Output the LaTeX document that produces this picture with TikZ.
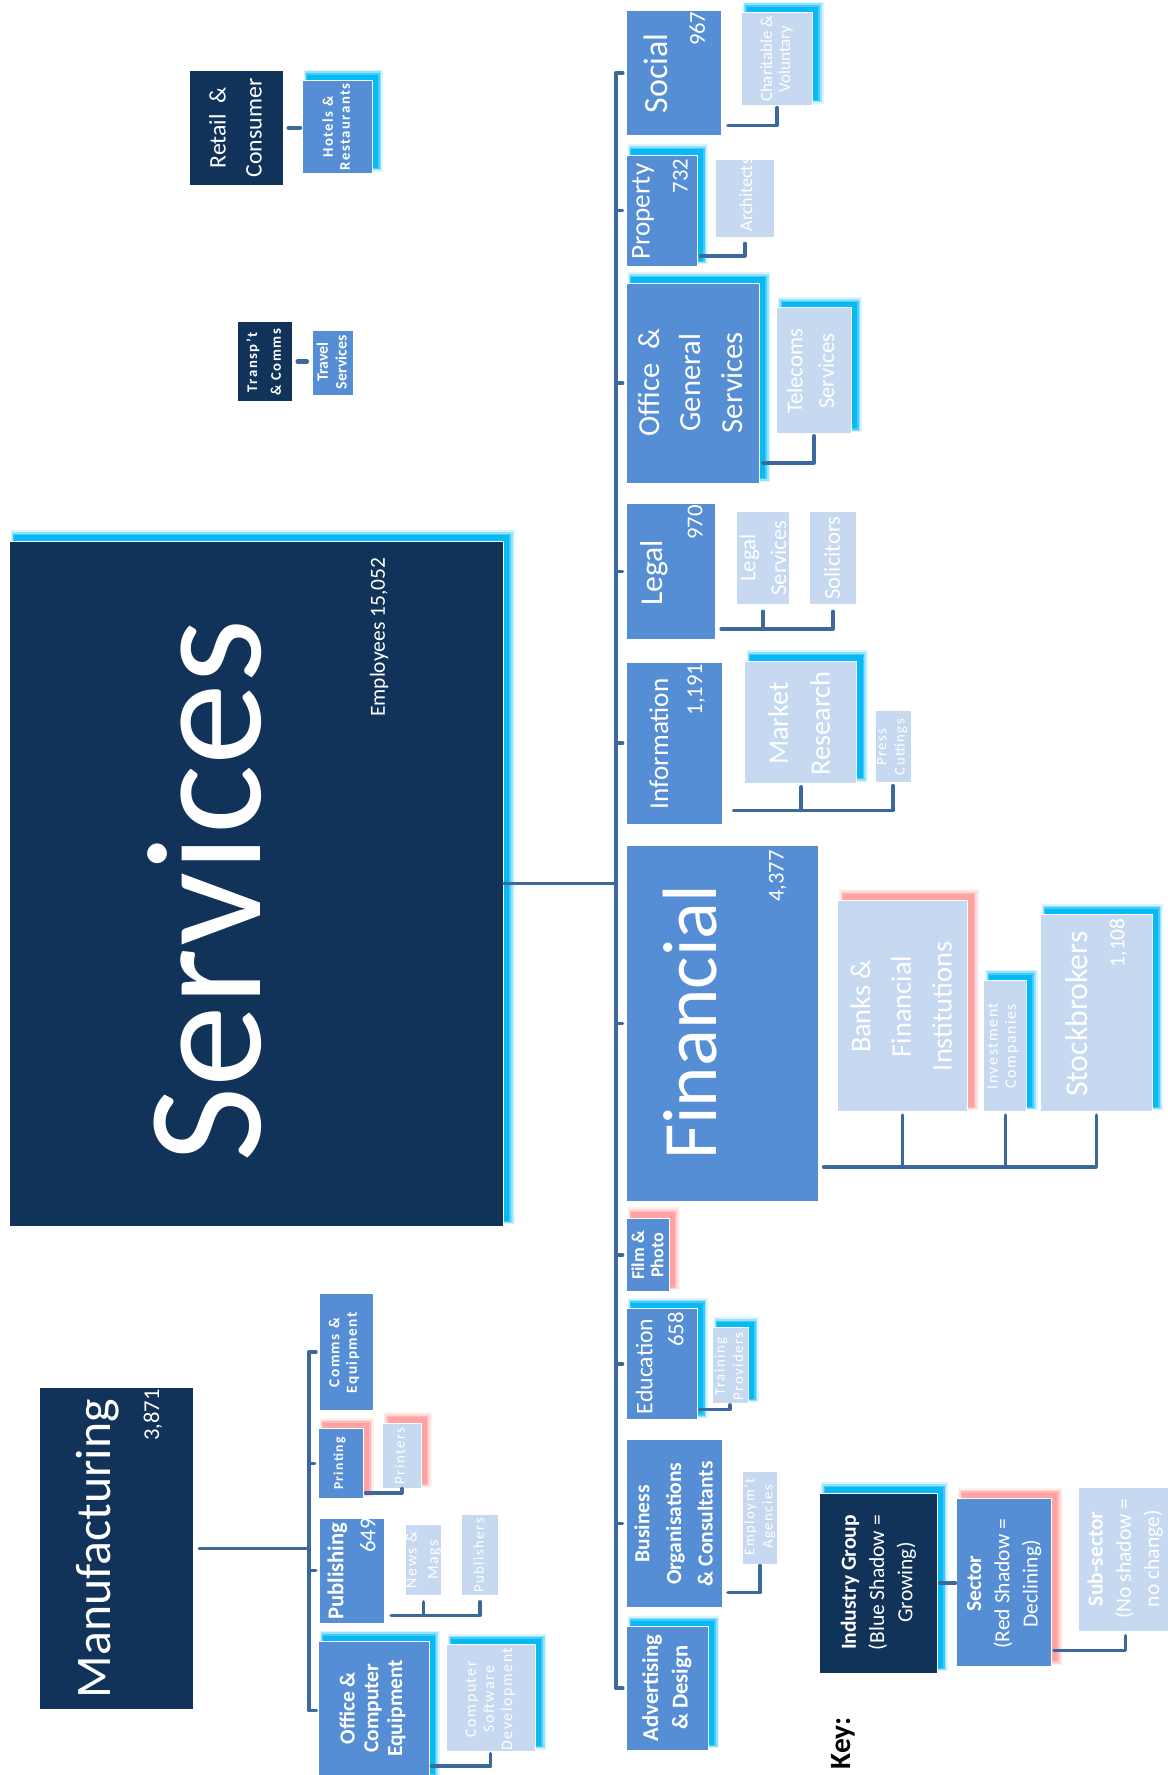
\documentclass[tikz,border=0pt]{standalone}
\usepackage{fontspec}
\setmainfont{Carlito}
\usetikzlibrary{calc}
\definecolor{navy}{RGB}{17,50,89}
\definecolor{midb}{RGB}{85,142,213}
\definecolor{lightb}{RGB}{198,217,241}
\definecolor{connc}{RGB}{60,104,156}
\definecolor{gblue}{RGB}{0,185,245}
\definecolor{gred}{RGB}{255,160,160}
\newcommand{\fs}[2]{\fontsize{#1}{#2}\selectfont}
\newcommand{\lsp}{\addfontfeatures{LetterSpace=10}}
\newcommand{\mkbox}[6]{\node[#1, minimum width={#5-#3}, minimum height={#6-#4}] (#2) at ({(#3+#5)/2},{(#4+#6)/2}) {};}
\newcommand{\glow}[5]{%
  \fill[#1, opacity=.15] ({#2+1.5},{#3-9.5}) rectangle ({#4+9.5},{#5-1.5});
  \fill[#1, opacity=.3] ({#2+2.5},{#3-8}) rectangle ({#4+8},{#5-2.5});
  \fill[#1, opacity=.55] ({#2+3.5},{#3-6.5}) rectangle ({#4+6.5},{#5-3.5});
  \fill[#1, opacity=.9] ({#2+4.5},{#3-5}) rectangle ({#4+5},{#5-4.5});}
\tikzset{
  bx/.style={rectangle, draw=white, line width=0.8pt, inner sep=0pt, outer sep=0pt},
  grpbox/.style={bx, fill=navy},
  secbox/.style={bx, fill=midb},
  subbox/.style={bx, fill=lightb},
  txt/.style={text=white, rotate=90, align=center, inner sep=0pt},
  conn/.style={draw=connc, line width=3pt, line join=round, line cap=round},
  trunk/.style={conn, line width=3.5pt},
}
\begin{document}
\begin{tikzpicture}[x=1pt,y=-1pt]
\fill[white] (0,0) rectangle (1031,1568);
\useasboundingbox (0,0) rectangle (1031,1568);
\coordinate (tx) at (544,0);
\coordinate (mx) at (273,0);
% ---------- Services ----------
\glow{gblue}{8}{478}{445}{1083}
\mkbox{grpbox}{serv}{8}{478}{445}{1083}
\node[txt, font=\fs{145}{145}] (serv-t) at (181,787) {Services};
\node[txt, font=\fs{19}{19}] (serv-n) at (335,563) {Employees 15,052};
% ---------- Sectors ----------
\mkbox{secbox}{soc}{553}{9}{637}{120}
\node[txt,font=\fs{30}{30}] (soc-t) at (579,65) {Social};
\node[txt,font=\fs{20}{20},anchor=east] (soc-n) at (616,10) {967};
\glow{gblue}{553}{137}{616}{235}
\mkbox{secbox}{prop}{553}{137}{616}{235}
\node[txt,font=\fs{24}{24}] (prop-t) at (568,187) {Property};
\node[txt,font=\fs{20}{20},anchor=east] (prop-n) at (601,140) {732};
\glow{gblue}{553}{250}{671}{427}
\mkbox{secbox}{ogs}{553}{250}{671}{427}
\node[txt,font=\fs{27}{37}] (ogs-t) at (610,338) {Office\ \ \&\\General\\Services};
\mkbox{secbox}{leg}{553}{445}{632}{565}
\node[txt,font=\fs{28}{28}] (leg-t) at (578,506) {Legal};
\node[txt,font=\fs{20}{20},anchor=east] (leg-n) at (614,446) {970};
\mkbox{secbox}{inf}{553}{585}{638}{728}
\node[txt,font=\fs{24}{24}] (inf-t) at (582,657) {Information};
\node[txt,font=\fs{20}{20},anchor=east] (inf-n) at (615,586) {1,191};
\mkbox{secbox}{fin}{553}{747}{723}{1061}
\node[txt,font=\fs{68}{68}] (fin-t) at (610,903) {Financial};
\node[txt,font=\fs{20}{20},anchor=east] (fin-n) at (687,751) {4,377};
\glow{gred}{553}{1076}{591}{1141}
\mkbox{secbox}{film}{553}{1076}{591}{1141}
\node[txt,font=\fs{16}{17}\bfseries] (film-t) at (572,1109) {Film \&\\Photo};
\glow{gblue}{553}{1156}{616}{1254}
\mkbox{secbox}{edu}{553}{1156}{616}{1254}
\node[txt,font=\fs{21}{21}] (edu-t) at (569,1207) {Education};
\node[txt,font=\fs{20}{20},anchor=east] (edu-n) at (597,1159) {658};
\mkbox{secbox}{bus}{553}{1272}{638}{1420}
\node[txt,font=\fs{19}{28}\bfseries] (bus-t) at (595,1346) {Business\\Organisations\\\& Consultants};
\glow{gblue}{553}{1437}{626}{1546}
\mkbox{secbox}{adv}{553}{1437}{626}{1546}
\node[txt,font=\fs{20}{26}\bfseries] (adv-t) at (589,1491) {Advertising\\\& Design};
% ---------- Sub-sectors ----------
\glow{gblue}{655}{11}{718}{93}
\mkbox{subbox}{char}{655}{11}{718}{93}
\node[txt,font=\fs{15}{16}] (char-t) at (686,52) {Charitable \&\\Voluntary};
\mkbox{subbox}{arch}{632}{141}{684}{210}
\node[txt,font=\fs{16}{16}] (arch-t) at (659,172) {Architects};
\glow{gblue}{686}{272}{752}{383}
\mkbox{subbox}{tel}{686}{272}{752}{383}
\node[txt,font=\fs{20}{28}] (tel-t) at (716,328) {Telecoms\\Services};
\mkbox{subbox}{ls}{651}{452}{697}{534}
\node[txt,font=\fs{20}{27}] (ls-t) at (674,493) {Legal\\Services};
\mkbox{subbox}{sol}{715}{452}{757}{534}
\node[txt,font=\fs{20}{20}] (sol-t) at (735,493) {Solicitors};
\glow{gblue}{658}{584}{757}{692}
\mkbox{subbox}{mr}{658}{584}{757}{692}
\node[txt,font=\fs{25}{37}] (mr-t) at (706,639) {Market\\Research};
\mkbox{subbox}{pc}{773}{628}{805}{691}
\node[txt,font=\fs{13}{16}\lsp] (pc-t) at (788,660) {Press\\Cuttings};
\glow{gred}{740}{795}{855}{982}
\mkbox{subbox}{bank}{740}{795}{855}{982}
\node[txt,font=\fs{25}{36}] (bank-t) at (796,889) {Banks \&\\Financial\\Institutions};
\glow{gblue}{869}{866}{907}{982}
\mkbox{subbox}{inv}{869}{866}{907}{982}
\node[txt,font=\fs{14}{16}\lsp] (inv-t) at (886,924) {Investment\\Companies};
\glow{gblue}{919}{808}{1018}{982}
\mkbox{subbox}{stk}{919}{808}{1018}{982}
\node[txt,font=\fs{28}{28}] (stk-t) at (951,896) {Stockbrokers};
\node[txt,font=\fs{19}{19},anchor=east] (stk-n) at (988,811) {1,108};
\glow{gblue}{629}{1173}{661}{1240}
\mkbox{subbox}{tp}{629}{1173}{661}{1240}
\node[txt,font=\fs{13}{16}\lsp] (tp-t) at (644,1207) {Training\\Providers};
\mkbox{subbox}{emp}{656}{1300}{687}{1382}
\node[txt,font=\fs{13}{16}\lsp] (emp-t) at (671,1340) {Employm't\\Agencies};
% ---------- Manufacturing ----------
\mkbox{grpbox}{man}{35}{1226}{171}{1510}
\node[txt,font=\fs{44}{44}] (man-t) at (86,1368) {Manufacturing};
\node[txt,font=\fs{20}{20},anchor=east] (man-n) at (135,1227) {3,871};
\mkbox{secbox}{cme}{282}{1143}{330}{1246}
\node[txt,font=\fs{13.5}{15.5}\bfseries\lsp] (cme-t) at (304,1195) {Comms \&\\Equipment};
\glow{gred}{281}{1262}{321}{1324}
\mkbox{secbox}{prt}{281}{1262}{321}{1324}
\node[txt,font=\fs{12}{12}\bfseries\lsp] (prt-t) at (300,1293) {Printing};
\glow{gred}{338}{1257}{372}{1315}
\mkbox{subbox}{prts}{338}{1257}{372}{1315}
\node[txt,font=\fs{13}{13}\lsp] (prts-t) at (353,1286) {Printers};
\mkbox{secbox}{pub}{282}{1341}{340}{1434}
\node[txt,font=\fs{20}{20}\bfseries] (pub-t) at (298,1388) {Publishing};
\node[txt,font=\fs{20}{20},anchor=east] (pub-n) at (325,1341) {649};
\mkbox{subbox}{nm}{358}{1347}{390}{1409}
\node[txt,font=\fs{14}{19}\lsp] (nm-t) at (374,1378) {News \&\\Mags};
\mkbox{subbox}{pubs}{408}{1338}{440}{1409}
\node[txt,font=\fs{13}{13}\lsp] (pubs-t) at (423,1374) {Publishers};
\glow{gblue}{281}{1450}{379}{1572}
\mkbox{secbox}{oce}{281}{1450}{379}{1572}
\node[txt,font=\fs{19}{21}\bfseries] (oce-t) at (329,1509) {Office \&\\Computer\\Equipment};
\glow{gblue}{394}{1453}{473}{1547}
\mkbox{subbox}{csd}{394}{1453}{473}{1547}
\node[txt,font=\fs{14}{16}\lsp] (csd-t) at (433,1501) {Computer\\Software\\Development};
% ---------- Retail / Transport ----------
\mkbox{grpbox}{ret}{167}{62}{250}{164}
\node[txt,font=\fs{21}{32}] (ret-t) at (208,113) {Retail\ \ \&\\Consumer};
\glow{gblue}{267}{71}{329}{153}
\mkbox{secbox}{hot}{267}{71}{329}{153}
\node[txt,font=\fs{13}{15}\bfseries\lsp] (hot-t) at (297,112) {Hotels \&\\Restaurants};
\mkbox{grpbox}{trn}{210}{284}{258}{355}
\node[txt,font=\fs{13}{21}\bfseries\lsp] (trn-t) at (233,320) {Transp't\\\& Comms};
\mkbox{secbox}{trv}{276}{292}{312}{349}
\node[txt,font=\fs{14}{16.5}\bfseries] (trv-t) at (293,320) {Travel\\Services};
% ---------- Key ----------
\node[font=\fs{26}{26}\bfseries, rotate=90, text=black, inner sep=0pt] (key) at (745,1540) {Key:};
\glow{gblue}{724}{1319}{828}{1478}
\mkbox{grpbox}{kig}{724}{1319}{828}{1478}
\node[txt,font=\fs{19}{25}] (kig-t) at (776,1398) {\textbf{Industry Group}\\(Blue Shadow =\\Growing)};
\glow{gred}{845}{1324}{929}{1472}
\mkbox{secbox}{ksec}{845}{1324}{929}{1472}
\node[txt,font=\fs{19}{25}] (ksec-t) at (887,1399) {\textbf{Sector}\\(Red Shadow =\\Declining)};
\mkbox{subbox}{ksub}{953}{1314}{1035}{1441}
\node[txt,font=\fs{19}{25}] (ksub-t) at (994,1377) {\textbf{Sub-sector}\\(No shadow =\\no change)};
% ---------- Connectors: services ----------
\draw[conn] (serv.east) -- (serv.east -| tx);
\draw[trunk] ([xshift=6pt]soc.west -| tx) -- (soc.west -| tx) -- (adv.west -| tx) -- ([xshift=6pt]adv.west -| tx);
\foreach \n in {prop,ogs,leg,inf,fin,film,edu,bus}
  \draw[conn] (\n.west -| tx) -- ([xshift=-3pt]\n.west);
\draw[conn] ([xshift=6pt,yshift=9pt]soc.south east) -| ([yshift=-2pt]char.south);
\draw[conn] ([xshift=3pt,yshift=9pt]prop.south east) -| ([yshift=-5pt]arch.south);
\draw[conn] ([xshift=3pt,yshift=18pt]ogs.south east) -| ([yshift=-2pt]tel.south);
\coordinate (legbar) at ([xshift=5pt,yshift=9.5pt]leg.south east);
\draw[conn] (legbar) -| ([yshift=-6pt]sol.south);
\draw[conn] ([yshift=-6pt]ls.south) -- (ls.south |- legbar);
\coordinate (infbar) at ([xshift=10pt,yshift=12pt]inf.south east);
\draw[conn] (infbar) -| ([yshift=-3pt]pc.south);
\draw[conn] ([yshift=-3pt]mr.south) -- (mr.south |- infbar);
\coordinate (finbar) at ([xshift=4.5pt,yshift=30pt]fin.south east);
\draw[conn] (finbar) -| ([yshift=-3pt]stk.south);
\draw[conn] ([yshift=-3pt]bank.south) -- (bank.south |- finbar);
\draw[conn] ([yshift=-3pt]inv.south) -- (inv.south |- finbar);
\draw[conn] ([xshift=2pt,yshift=9pt]edu.south east) -| ([yshift=-1pt]tp.south);
\draw[conn] ([xshift=5pt,yshift=13pt]bus.south east) -| ([yshift=-1pt]emp.south);
% ---------- Connectors: manufacturing ----------
\draw[conn] ([xshift=5pt]man.east) -- (man.east -| mx);
\draw[trunk] ([xshift=6pt]cme.west -| mx) -- (cme.west -| mx) -- (oce.west -| mx) -- ([xshift=6pt]oce.west -| mx);
\foreach \n in {prt,pub}
  \draw[conn] (\n.west -| mx) -- ([xshift=-3pt]\n.west);
\draw[conn] ([xshift=2pt,yshift=5pt]prt.south east) -| (prts.south);
\coordinate (pubbar) at ([xshift=5.5pt,yshift=7pt]pub.south east);
\draw[conn] (pubbar) -| ([yshift=-6pt]pubs.south);
\draw[conn] ([yshift=-6pt]nm.south) -- (nm.south |- pubbar);
\draw[conn] ([xshift=2pt,yshift=12pt]oce.south east) -| ([yshift=-2pt]csd.south);
% ---------- Connectors: retail, transport, key ----------
\draw[conn, line width=4pt] ([xshift=5pt]ret.east) -- ([xshift=-2pt]ret.east -| hot.west);
\draw[conn, line width=4pt] ([xshift=5pt]trn.east) -- ([xshift=-5pt]trn.east -| trv.west);
\draw[conn] ([xshift=2pt]kig.east) -- ([xshift=-1pt]kig.east -| ksec.west);
\draw[conn] ([xshift=2pt,yshift=14pt]ksec.south east) -| ([yshift=-4pt]ksub.south);
\end{tikzpicture}
\end{document}
